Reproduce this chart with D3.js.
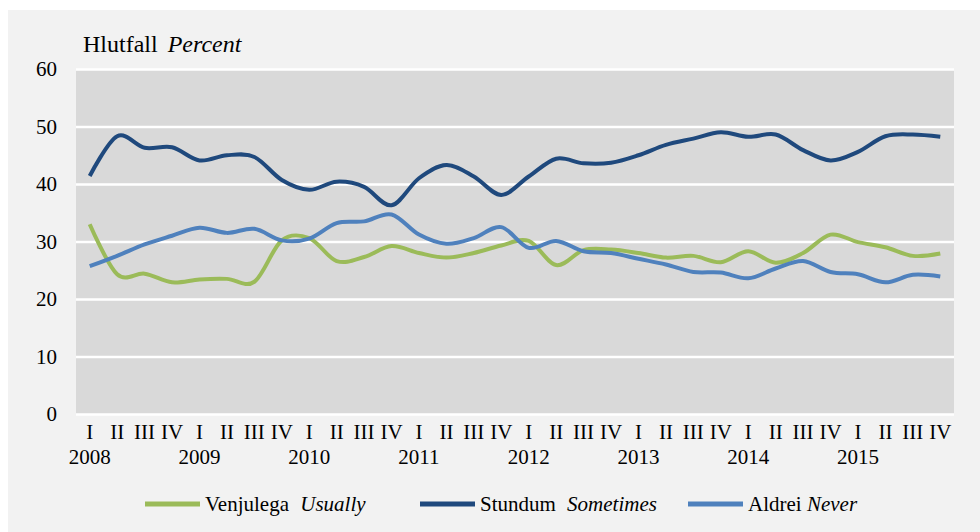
<!DOCTYPE html>
<html><head><meta charset="utf-8">
<script src="https://cdn.jsdelivr.net/npm/d3@7"></script>
<style>
html,body{margin:0;padding:0;background:#fff;}
text{font-family:"Liberation Serif","Times New Roman",serif;fill:#000;}
</style></head><body>
<svg id="c" width="980" height="532"></svg>
<script>
const years = ["2008","2009","2010","2011","2012","2013","2014","2015"];
const quarters = ["I","II","III","IV"];
const yTicks = [0,10,20,30,40,50,60];
const venjulega = [33.0,24.3,24.4,22.9,23.4,23.5,23.0,30.2, 30.6,26.6,27.3,29.2,28.0,27.2,28.0,29.3, 30.1,25.9,28.5,28.6,28.0,27.2,27.5,26.4, 28.3,26.3,28.0,31.2,29.9,29.0,27.5,27.9];
const stundum = [41.4,48.3,46.3,46.4,44.1,45.0,44.7,40.7, 39.0,40.4,39.5,36.3,41.0,43.3,41.3,38.1, 41.3,44.4,43.6,43.7,45.0,46.8,47.9,49.0, 48.2,48.6,45.9,44.1,45.6,48.3,48.6,48.2];
const aldrei = [25.7,27.5,29.5,31.0,32.4,31.5,32.2,30.2, 30.5,33.2,33.5,34.7,31.2,29.6,30.6,32.5, 28.9,30.1,28.3,28.0,27.0,26.0,24.7,24.6, 23.6,25.3,26.6,24.7,24.3,22.9,24.2,23.9];
const seriesNames = [["Venjulega","Usually"],["Stundum","Sometimes"],["Aldrei","Never"]];
const colors = ["#9BBB59","#1F497D","#4F81BD"];

const svg = d3.select("#c");
svg.append("rect").attr("x",8).attr("y",10).attr("width",972).attr("height",522).attr("fill","#f2f2f2");

const m = {l:76, r:954, t:69, b:414};
const cats = [];
years.forEach(y=>quarters.forEach(q=>cats.push(y+"-"+q)));
const x = d3.scaleBand().domain(cats).range([m.l,m.r]);
const y = d3.scaleLinear().domain([0,60]).range([m.b,m.t]);

svg.append("rect").attr("x",m.l).attr("y",m.t).attr("width",m.r-m.l).attr("height",m.b-m.t).attr("fill","#d9d9d9");

const yAxis = d3.axisLeft(y).tickValues(yTicks).tickSize(-(m.r-m.l)).tickPadding(19);
const gy = svg.append("g").attr("transform",`translate(${m.l},0)`).call(yAxis);
gy.select(".domain").remove();
gy.selectAll(".tick line").attr("stroke","#fff").attr("stroke-width",2.5);
gy.selectAll(".tick text").attr("font-size",21).attr("font-family","Liberation Serif").attr("fill","#000").attr("dy","0.33em");

const xAxis = d3.axisBottom(x).tickSize(0).tickPadding(10).tickFormat(d=>d.split("-")[1]);
const gx = svg.append("g").attr("transform",`translate(0,${m.b})`).call(xAxis);
gx.select(".domain").remove();
gx.selectAll(".tick text").attr("font-size",21).attr("font-family","Liberation Serif").attr("fill","#000");

svg.append("g").selectAll("text").data(years).join("text")
  .attr("x",d=>x(d+"-I")+x.bandwidth()/2).attr("y",464)
  .attr("text-anchor","middle").attr("font-size",21).text(d=>d);

const line = d3.line().x((d,i)=>x(cats[i])+x.bandwidth()/2).y(d=>y(d)).curve(d3.curveCardinal.tension(0));
[venjulega,stundum,aldrei].forEach((s,k)=>{
  svg.append("path").datum(s).attr("d",line).attr("fill","none")
    .attr("stroke",colors[k]).attr("stroke-width",4).attr("stroke-linejoin","round");
});

const t = svg.append("text").attr("x",83).attr("y",52).attr("font-size",24);
t.append("tspan").text("Hlutfall ");
t.append("tspan").attr("font-style","italic").attr("dx",4).text("Percent");

const legX = [145,420,688];
const lg = svg.append("g");
seriesNames.forEach((n,k)=>{
  lg.append("line").attr("x1",legX[k]).attr("x2",legX[k]+55).attr("y1",504).attr("y2",504)
    .attr("stroke",colors[k]).attr("stroke-width",5);
  const tx = lg.append("text").attr("x",legX[k]+60).attr("y",511).attr("font-size",21);
  tx.append("tspan").text(n[0]+" ");
  tx.append("tspan").attr("font-style","italic").attr("dx",k==2?0:6).text(n[1]);
});
</script>
</body></html>
